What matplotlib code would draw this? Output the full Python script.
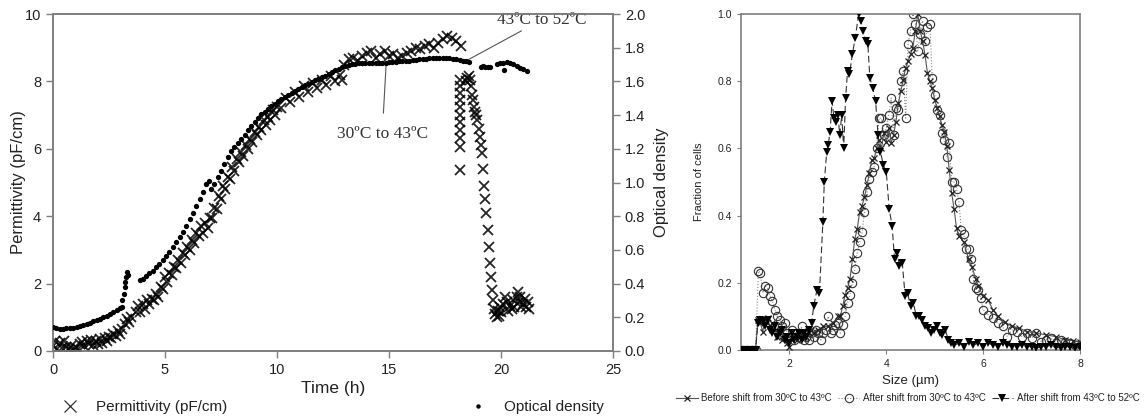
import numpy as np
import matplotlib
matplotlib.use("Agg")
import matplotlib.pyplot as plt
from matplotlib.lines import Line2D

# --- left panel: growth curve ---
# permittivity (pF/cm)
perm_t = [0.0, 0.1, 0.2, 0.3, 0.4, 0.5, 0.6, 0.7, 0.8, 0.9, 1.0, 1.1, 1.2, 1.3, 1.4, 1.5, 1.6, 1.7, 1.8, 1.9,
          2.0, 2.1, 2.2, 2.3, 2.4, 2.5, 2.6, 2.7, 2.8, 2.9, 3.0, 3.1, 3.2, 3.3, 3.4, 3.5, 3.7, 3.8, 3.9, 4.0,
          4.1, 4.2, 4.3, 4.4, 4.5, 4.6, 4.7, 4.8, 4.9, 5.0, 5.1, 5.2, 5.3, 5.4, 5.5, 5.6, 5.7, 5.8, 5.9, 6.0,
          6.1, 6.2, 6.3, 6.4, 6.5, 6.6, 6.7, 6.8, 6.9, 7.0, 7.1, 7.2, 7.3, 7.4, 7.5, 7.6, 7.7, 7.8, 7.9, 8.0,
          8.1, 8.2, 8.3, 8.4, 8.5, 8.6, 8.7, 8.8, 8.9, 9.0, 9.1, 9.2, 9.3, 9.4, 9.5, 9.6, 9.7, 9.8, 9.9, 10.0,
          10.2, 10.4, 10.6, 10.8, 11.0, 11.2, 11.4, 11.6, 11.8, 12.0, 12.2, 12.4, 12.6, 12.8, 12.9, 13.0,
          13.2, 13.4, 13.6, 13.8, 14.0, 14.2, 14.4, 14.6, 14.8, 15.0, 15.2, 15.4, 15.6, 15.8, 16.0, 16.2,
          16.4, 16.6, 16.8, 17.0, 17.2, 17.4, 17.6, 17.8, 18.0, 18.2,
          # after the shift: column, fall and low cluster
          18.17, 18.17, 18.17, 18.17, 18.17, 18.17, 18.17, 18.17, 18.17, 18.17, 18.17,
          18.45, 18.5, 18.55, 18.6, 18.65, 18.7, 18.75, 18.8, 18.85, 18.9, 18.95, 19.0, 19.05, 19.1, 19.15,
          19.2, 19.25, 19.3, 19.35, 19.4, 19.45, 19.5, 19.55, 19.6, 19.65, 19.7, 19.75,
          19.8, 19.85, 19.9, 19.95, 20.0, 20.1, 20.2, 20.25, 20.3, 20.4, 20.5, 20.55, 20.6, 20.7, 20.75,
          20.8, 20.85, 20.9, 21.0, 21.05, 21.1, 21.2, 21.25]
perm_v = [0.15, 0.3, 0.05, 0.25, 0.1, 0.3, 0.12, 0.05, 0.15, 0.02, 0.12, 0.05, 0.2, 0.28, 0.15, 0.3, 0.2, 0.32, 0.18, 0.3,
          0.22, 0.35, 0.25, 0.4, 0.3, 0.42, 0.38, 0.5, 0.45, 0.58, 0.5, 0.65, 0.8, 0.95, 0.85, 1.0, 1.15, 1.35, 1.15, 1.4,
          1.25, 1.5, 1.4, 1.55, 1.5, 1.7, 1.6, 1.9, 1.85, 2.2, 2.05, 2.3, 2.25, 2.5, 2.45, 2.7, 2.6, 2.9, 2.85, 3.1,
          3.0, 3.3, 3.2, 3.5, 3.4, 3.7, 3.5, 3.8, 3.65, 3.95, 3.95, 4.25, 4.2, 4.6, 4.5, 4.9, 4.8, 5.15, 5.1, 5.45,
          5.35, 5.7, 5.6, 5.9, 5.8, 6.1, 6.0, 6.3, 6.2, 6.5, 6.4, 6.65, 6.55, 6.85, 6.7, 6.95, 6.85, 7.15, 7.0, 7.25,
          7.2, 7.5, 7.4, 7.7, 7.55, 7.85, 7.7, 7.95, 7.8, 8.05, 7.9, 8.15, 8.0, 8.2, 8.05, 8.5,
          8.65, 8.7, 8.6, 8.75, 8.85, 8.9, 8.7, 8.8, 8.9, 8.75, 8.8, 8.7, 8.75, 8.85, 8.9, 9.0,
          8.95, 9.05, 9.1, 9.0, 9.15, 9.25, 9.35, 9.3, 9.2, 9.05,
          5.37, 6.05, 6.32, 6.56, 6.8, 7.0, 7.24, 7.45, 7.65, 7.85, 8.04,
          8.0, 8.1, 8.15, 8.05, 7.85, 7.6, 7.45, 7.25, 7.1, 7.0, 6.85, 6.6, 6.35, 6.1, 5.87,
          5.4, 4.9, 4.5, 4.1, 3.6, 3.1, 2.6, 2.2, 1.8, 1.5, 1.25, 1.1,
          1.0, 1.2, 1.05, 1.3, 1.15, 1.4, 1.6, 1.45, 1.2, 1.35, 1.25, 1.5, 1.3, 1.6, 1.75,
          1.45, 1.6, 1.3, 1.4, 1.55, 1.3, 1.45, 1.25]

# optical density
od_t = [0.0, 0.15, 0.3, 0.45, 0.6, 0.75, 0.9, 1.05, 1.2, 1.35, 1.5, 1.65, 1.8, 1.95, 2.1, 2.25, 2.4, 2.55, 2.7, 2.85,
        3.0, 3.08, 3.1, 3.15, 3.2, 3.22, 3.26, 3.3, 3.33,
        3.88, 4.0, 4.15, 4.3, 4.45, 4.6, 4.75, 4.9, 5.05, 5.2, 5.35, 5.5, 5.65, 5.8, 5.95, 6.1, 6.25, 6.4, 6.55, 6.7,
        6.85, 6.95, 7.05, 7.2, 7.35, 7.5, 7.65, 7.8, 7.95, 8.1, 8.25, 8.4, 8.55, 8.7, 8.85, 9.0, 9.15, 9.3, 9.45,
        9.6, 9.75, 9.9, 10.05, 10.2, 10.35, 10.5, 10.65, 10.8, 10.95, 11.1, 11.25, 11.4, 11.55, 11.7, 11.85, 12.0,
        12.15, 12.3, 12.45, 12.6, 12.75, 12.9, 13.05, 13.2, 13.35, 13.5, 13.65, 13.8, 13.95, 14.1, 14.25, 14.4,
        14.55, 14.7, 14.85, 15.0, 15.15, 15.3, 15.45, 15.6, 15.75, 15.9, 16.05, 16.2, 16.35, 16.5, 16.65, 16.8,
        16.95, 17.1, 17.25, 17.4, 17.55, 17.7, 17.85, 18.0, 18.15, 18.3, 18.45, 18.55,
        19.1, 19.2, 19.3, 19.4, 19.5, 19.8, 19.95, 20.1, 20.25, 20.4, 20.55, 20.7, 20.85, 21.0, 21.15, 20.12]
od_v = [0.142, 0.136, 0.132, 0.133, 0.134, 0.136, 0.139, 0.143, 0.148, 0.154, 0.16, 0.168, 0.176, 0.184, 0.192, 0.2,
        0.21, 0.222, 0.234, 0.246, 0.256, 0.262, 0.3, 0.34, 0.38, 0.41, 0.44, 0.47, 0.45,
        0.42, 0.43, 0.444, 0.46, 0.476, 0.496, 0.516, 0.54, 0.564, 0.59, 0.616, 0.644, 0.676, 0.704, 0.744, 0.784,
        0.82, 0.86, 0.9, 0.944, 0.99, 1.01, 0.96, 0.99, 1.03, 1.07, 1.11, 1.15, 1.184, 1.21, 1.236, 1.26, 1.284,
        1.31, 1.336, 1.36, 1.384, 1.404, 1.42, 1.436, 1.452, 1.468, 1.484, 1.496, 1.51, 1.52, 1.532, 1.544, 1.554,
        1.566, 1.576, 1.586, 1.596, 1.606, 1.616, 1.624, 1.634, 1.644, 1.656, 1.666, 1.676, 1.686, 1.694, 1.70,
        1.704, 1.706, 1.708, 1.71, 1.71, 1.712, 1.712, 1.712, 1.712, 1.712, 1.712, 1.714, 1.716, 1.718,
        1.72, 1.722, 1.724, 1.724, 1.726, 1.728, 1.732, 1.734, 1.734, 1.736, 1.738, 1.738, 1.74, 1.74, 1.74,
        1.738, 1.734, 1.732, 1.728, 1.724, 1.72, 1.716,
        1.686, 1.69, 1.688, 1.686, 1.684, 1.704, 1.71, 1.712, 1.714, 1.712, 1.704, 1.694, 1.682, 1.672, 1.66, 1.666]

# --- right panel: size distributions ---
b43_s = [1.0, 1.05, 1.1, 1.15, 1.2, 1.25, 1.3, 1.35, 1.4, 1.45, 1.5, 1.55, 1.6, 1.65, 1.7, 1.75, 1.8, 1.85, 1.9, 1.95,
         2.0, 2.05, 2.1, 2.15, 2.2, 2.25, 2.3, 2.35, 2.4, 2.45, 2.5, 2.6, 2.7, 2.8, 2.9, 3.0, 3.05, 3.1, 3.15, 3.2,
         3.25, 3.3, 3.35, 3.4, 3.45, 3.5, 3.55, 3.6, 3.65, 3.7, 3.75, 3.8, 3.85, 3.9, 3.95, 4.0, 4.05, 4.1, 4.15,
         4.2, 4.25, 4.3, 4.35, 4.4, 4.45, 4.5, 4.55, 4.6, 4.65, 4.7, 4.75, 4.8, 4.85, 4.9, 4.95, 5.0, 5.05, 5.1,
         5.15, 5.2, 5.25, 5.3, 5.35, 5.4, 5.45, 5.5, 5.6, 5.7, 5.77, 5.85, 5.9, 6.0, 6.1, 6.2, 6.3, 6.45, 6.6,
         6.75, 6.9, 7.1, 7.3, 7.5, 7.7, 7.85, 8.0]
b43_f = [0, 0, 0, 0, 0, 0, 0, 0.09, 0.08, 0.055, 0.09, 0.095, 0.07, 0.08, 0.06, 0.04, 0.05, 0.03, 0.04, 0.02,
         0.01, 0.03, 0.04, 0.03, 0.04, 0.05, 0.04, 0.04, 0.05, 0.06, 0.05, 0.06, 0.07, 0.07, 0.08, 0.1, 0.1, 0.13,
         0.164, 0.185, 0.21, 0.27, 0.33, 0.36, 0.41, 0.43, 0.455, 0.49, 0.526, 0.565, 0.57, 0.6, 0.625, 0.6, 0.645,
         0.62, 0.66, 0.616, 0.64, 0.68, 0.735, 0.77, 0.804, 0.84, 0.86, 0.88, 0.9, 0.95, 1.0, 0.95, 0.92, 0.878,
         0.824, 0.8, 0.78, 0.745, 0.72, 0.696, 0.67, 0.648, 0.607, 0.536, 0.467, 0.42, 0.363, 0.34, 0.32, 0.27,
         0.247, 0.21, 0.19, 0.16, 0.15, 0.12, 0.1, 0.083, 0.07, 0.065, 0.055, 0.05, 0.045, 0.04, 0.03, 0.028, 0.025]

a43_s = [1.0, 1.05, 1.1, 1.15, 1.2, 1.25, 1.3, 1.36, 1.4, 1.45, 1.5, 1.55, 1.6, 1.65, 1.7, 1.75, 1.8, 1.85, 1.9, 1.95,
         2.0, 2.05, 2.1, 2.15, 2.2, 2.25, 2.3, 2.35, 2.4, 2.45, 2.5, 2.55, 2.6, 2.65, 2.7, 2.75, 2.8, 2.85, 2.9, 2.95,
         3.0, 3.05, 3.1, 3.15, 3.2, 3.25, 3.3, 3.35, 3.4, 3.45, 3.5, 3.55, 3.6, 3.65, 3.7, 3.75, 3.8, 3.85, 3.9,
         3.95, 4.0, 4.05, 4.1, 4.15, 4.2, 4.25, 4.3, 4.35, 4.4, 4.45, 4.5, 4.55, 4.6, 4.65, 4.7, 4.75, 4.8, 4.85,
         4.9, 4.95, 5.0, 5.05, 5.1, 5.15, 5.2, 5.25, 5.3, 5.35, 5.4, 5.45, 5.5, 5.55, 5.6, 5.65, 5.7, 5.75, 5.8,
         5.85, 5.9, 5.95, 6.0, 6.1, 6.2, 6.3, 6.4, 6.5, 6.6, 6.7, 6.8, 6.9, 7.0, 7.1, 7.2, 7.3, 7.4, 7.5, 7.6, 7.7,
         7.8, 7.9, 8.0]
a43_f = [0, 0, 0, 0, 0, 0, 0, 0.235, 0.23, 0.17, 0.19, 0.185, 0.16, 0.145, 0.12, 0.1, 0.09, 0.07, 0.08, 0.05,
         0.04, 0.06, 0.03, 0.05, 0.04, 0.07, 0.03, 0.04, 0.03, 0.05, 0.04, 0.06, 0.05, 0.03, 0.05, 0.06, 0.1, 0.05,
         0.06, 0.075, 0.08, 0.05, 0.075, 0.1, 0.14, 0.165, 0.2, 0.24, 0.29, 0.32, 0.35, 0.41, 0.47, 0.51, 0.53,
         0.545, 0.6, 0.69, 0.69, 0.64, 0.66, 0.7, 0.75, 0.64, 0.72, 0.715, 0.8, 0.83, 0.69, 0.91, 0.95, 1.0, 0.97,
         0.89, 0.94, 0.98, 0.92, 0.96, 0.97, 0.81, 0.76, 0.715, 0.7, 0.645, 0.625, 0.575, 0.616, 0.5, 0.5, 0.48,
         0.44, 0.357, 0.345, 0.3, 0.3, 0.27, 0.21, 0.185, 0.18, 0.155, 0.12, 0.105, 0.095, 0.08, 0.07, 0.04, 0.06,
         0.055, 0.04, 0.05, 0.035, 0.05, 0.025, 0.03, 0.035, 0.02, 0.03, 0.025, 0.02, 0.015, 0.01]

a52_s = [1.0, 1.05, 1.1, 1.15, 1.2, 1.25, 1.3, 1.35, 1.4, 1.45, 1.5, 1.55, 1.6, 1.65, 1.7, 1.75, 1.8, 1.85, 1.9, 1.95,
         2.0, 2.05, 2.1, 2.15, 2.2, 2.25, 2.3, 2.35, 2.4, 2.46, 2.5, 2.57, 2.62, 2.69, 2.72, 2.77, 2.8, 2.84, 2.88,
         2.92, 2.96, 3.0, 3.04, 3.08, 3.12, 3.16, 3.2, 3.24, 3.3, 3.36, 3.43, 3.47, 3.52, 3.58, 3.62, 3.66, 3.72,
         3.78, 3.83, 3.88, 3.94, 4.0, 4.06, 4.12, 4.17, 4.22, 4.27, 4.33, 4.39, 4.44, 4.5, 4.56, 4.62, 4.68, 4.74,
         4.8, 4.86, 4.92, 4.98, 5.04, 5.1, 5.16, 5.22, 5.28, 5.34, 5.4, 5.5, 5.6, 5.7, 5.8, 5.9, 6.0, 6.1, 6.2, 6.3,
         6.4, 6.5, 6.6, 6.7, 6.8, 6.9, 7.0, 7.1, 7.2, 7.3, 7.4, 7.5, 7.6, 7.7, 7.8, 7.9, 8.0]
a52_f = [0, 0, 0, 0, 0, 0, 0, 0.08, 0.09, 0.085, 0.07, 0.09, 0.06, 0.05, 0.07, 0.04, 0.05, 0.06, 0.03, 0.04,
         0.02, 0.05, 0.03, 0.04, 0.05, 0.03, 0.05, 0.04, 0.06, 0.08, 0.13, 0.18, 0.17, 0.38, 0.5, 0.59, 0.61, 0.65,
         0.74, 0.69, 0.68, 0.7, 0.64, 0.7, 0.6, 0.75, 0.83, 0.82, 0.88, 0.93, 1.0, 0.98, 0.95, 0.92, 0.91, 0.81,
         0.78, 0.74, 0.64, 0.59, 0.55, 0.53, 0.42, 0.37, 0.27, 0.29, 0.25, 0.26, 0.16, 0.17, 0.13, 0.14, 0.1, 0.1,
         0.09, 0.07, 0.065, 0.05, 0.06, 0.07, 0.05, 0.045, 0.06, 0.03, 0.02, 0.015, 0.02, 0.01, 0.025, 0.015, 0.02,
         0.01, 0.02, 0.015, 0.01, 0.02, 0.015, 0.01, 0.01, 0.015, 0.01, 0.01, 0.005, 0.01, 0.01, 0.015, 0.01,
         0.005, 0.01, 0.01, 0.005, 0.01]

sans = "Liberation Sans"
serif = "Liberation Serif"
plt.rcParams["font.family"] = [sans, "DejaVu Sans"]

grey = "#7f7f7f"
fig = plt.figure(figsize=(11.47, 4.17), dpi=100)

# ---------- left panel ----------
ax = fig.add_axes([53 / 1147, 1 - 351 / 417, 560 / 1147, 337 / 417])
ax2 = ax.twinx()
ax.plot(perm_t, perm_v, ls="none", marker="x", ms=7, mew=1.3, color="black", alpha=0.85, zorder=3)
ax2.plot(od_t, od_v, ls="none", marker="o", ms=3.8, mew=0, color="black", zorder=3)

ax.set_xlim(0, 25)
ax.set_ylim(0, 10)
ax2.set_ylim(0, 2.0)
ax.set_xticks([0, 5, 10, 15, 20, 25])
ax.set_yticks([0, 2, 4, 6, 8, 10])
ax2.set_yticks(np.arange(0, 2.01, 0.2))
ax2.set_yticklabels([f"{v:.1f}" for v in np.arange(0, 2.01, 0.2)])
for a in (ax, ax2):
    for sp in a.spines.values():
        sp.set_color(grey)
        sp.set_linewidth(1.2)
    a.tick_params(colors=grey, labelcolor="#222222", labelsize=10.5, length=5, width=1)
ax.set_xlabel("Time (h)", fontsize=12.5, color="#222222")
ax.xaxis.set_label_coords(0.5, -0.09)
ax.set_ylabel("Permittivity (pF/cm)", fontsize=12, color="#222222", labelpad=-1)
ax2.set_ylabel("Optical density", fontsize=12, color="#222222", labelpad=6)

ax.annotate("30ºC to 43ºC", xy=(14.87, 8.49), xytext=(14.7, 6.45), fontsize=12.5, family=serif,
            ha="center", va="center", color="#333333",
            arrowprops=dict(arrowstyle="-", color="#555555", lw=0.8, shrinkA=7, shrinkB=0))
ax.annotate("43ºC to 52ºC", xy=(18.5, 8.63), xytext=(21.8, 9.82), fontsize=12.3, family=serif,
            ha="center", va="center", color="#333333",
            arrowprops=dict(arrowstyle="-", color="#555555", lw=0.8, shrinkA=0, shrinkB=0))

h1 = Line2D([], [], ls="none", marker="x", ms=8, mew=0.9, color="#333333")
h2 = Line2D([], [], ls="none", marker="o", ms=3.2, mew=0, color="black")
leg1 = ax.legend([h1], ["Permittivity (pF/cm)"], loc="center left", bbox_to_anchor=(47 / 1147, 1 - 407 / 417),
                 bbox_transform=fig.transFigure, frameon=False, fontsize=11, handlelength=1.2, handletextpad=1.1)
for t in leg1.get_texts():
    t.set_color("#222222")
ax.add_artist(leg1)
leg2 = ax.legend([h2], ["Optical density"], loc="center left", bbox_to_anchor=(455 / 1147, 1 - 407 / 417),
                 bbox_transform=fig.transFigure, frameon=False, fontsize=11, handlelength=1.2, handletextpad=1.1)
for t in leg2.get_texts():
    t.set_color("#222222")

# ---------- right panel ----------
bx = fig.add_axes([741 / 1147, 1 - 350 / 417, 339 / 1147, 336 / 417])
bx.plot(b43_s, b43_f, ls="-", lw=0.8, color="#555555", marker="x", ms=4.5, mew=0.9, mec="#222222",
        label="Before shift from 30ºC to 43ºC", zorder=3)
bx.plot(a43_s, a43_f, ls=":", lw=0.8, color="#888888", marker="o", ms=6, mfc="none", mew=0.8, mec="#333333",
        label="After shift from 30ºC to 43ºC", zorder=2)
bx.plot(a52_s, a52_f, ls=(0, (6, 3)), lw=0.8, color="#333333", marker="v", ms=5.5, mew=0, mfc="black",
        label="After shift from 43ºC to 52ºC", zorder=4)
bx.set_xlim(1, 8)
bx.set_ylim(0, 1.0)
bx.set_xticks([2, 4, 6, 8])
bx.set_yticks(np.arange(0, 1.01, 0.2))
bx.set_yticklabels([f"{v:.1f}" for v in np.arange(0, 1.01, 0.2)])
for sp in bx.spines.values():
    sp.set_color(grey)
    sp.set_linewidth(1.2)
bx.tick_params(colors=grey, labelcolor="#222222", labelsize=7.5, length=3, width=0.8)
bx.set_xlabel("Size (µm)", fontsize=9.5, color="#222222", labelpad=4)
bx.set_ylabel("Fraction of cells", fontsize=8, color="#222222", labelpad=10)
lg = bx.legend(loc="center", bbox_to_anchor=(908 / 1147, 1 - 398 / 417), bbox_transform=fig.transFigure,
               ncol=3, frameon=False, handlelength=2.2, handletextpad=0.4, columnspacing=0.6,
               prop={"family": sans, "size": 7})
for t in lg.get_texts():
    t.set_color("#222222")

fig.savefig("out.png", dpi=100)
